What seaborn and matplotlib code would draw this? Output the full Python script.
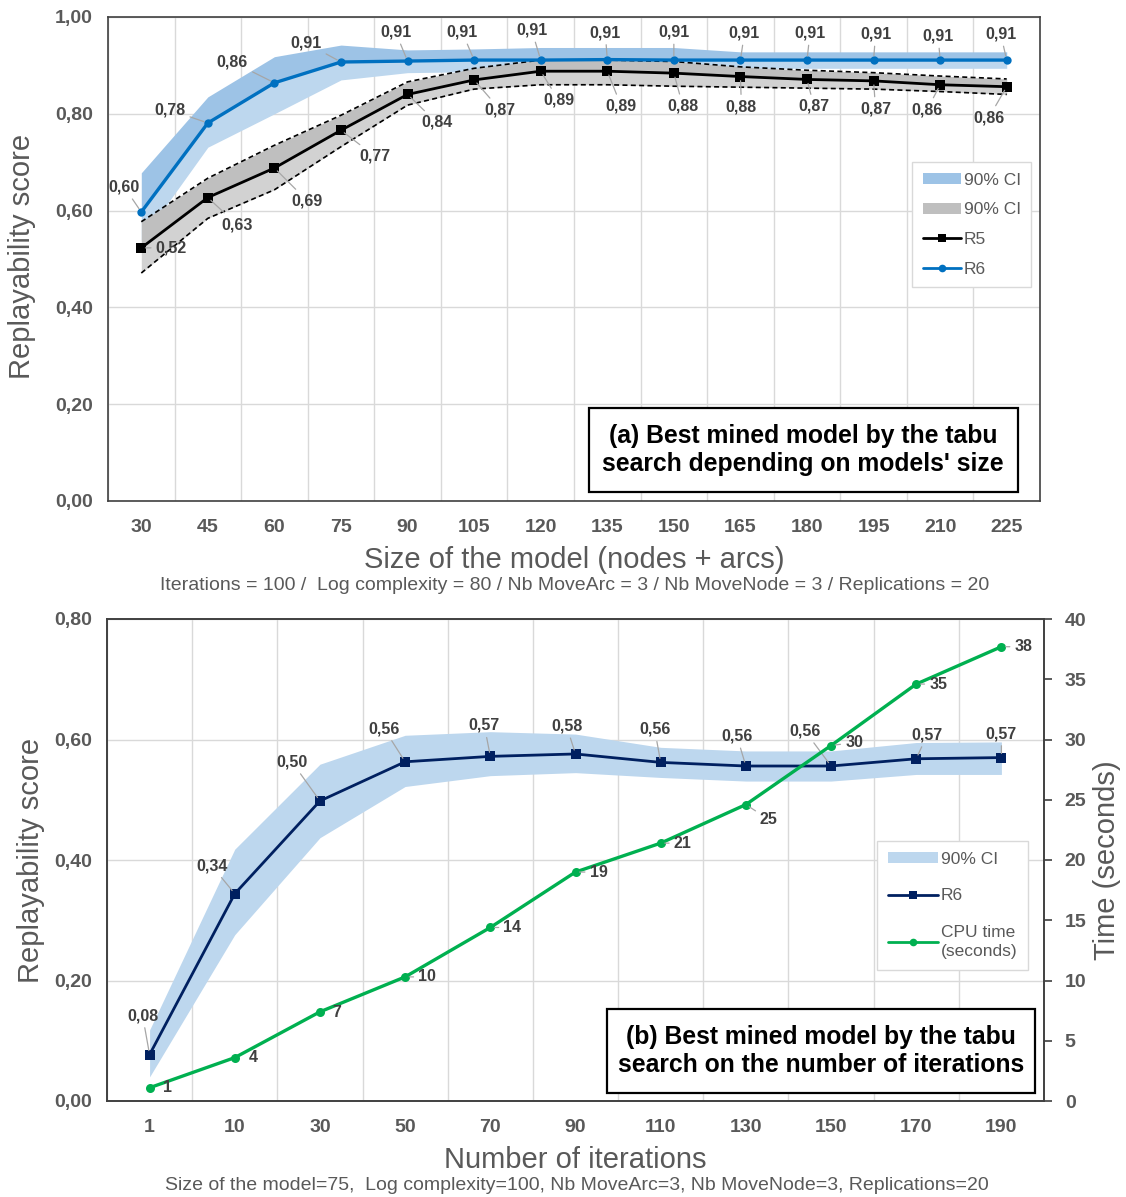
import numpy as np
import pandas as pd
import matplotlib
matplotlib.use("Agg")
import matplotlib.pyplot as plt
import seaborn as sns
from matplotlib.lines import Line2D
from matplotlib.patches import Patch, Rectangle

# ---------------- data : top chart ----------------
sizes = [30, 45, 60, 75, 90, 105, 120, 135, 150, 165, 180, 195, 210, 225]
r6_top = [0.597, 0.781, 0.864, 0.907, 0.909, 0.911, 0.911, 0.912, 0.911, 0.911, 0.911, 0.911, 0.911, 0.911]
r6_top_hi = [0.678, 0.835, 0.918, 0.942, 0.932, 0.934, 0.937, 0.937, 0.937, 0.928, 0.928, 0.928, 0.928, 0.928]
r6_top_lo = [0.539, 0.731, 0.800, 0.870, 0.885, 0.887, 0.890, 0.892, 0.893, 0.894, 0.894, 0.894, 0.894, 0.894]
r5_top = [0.523, 0.627, 0.688, 0.766, 0.840, 0.870, 0.888, 0.888, 0.884, 0.877, 0.871, 0.868, 0.860, 0.856]
r5_top_hi = [0.577, 0.667, 0.735, 0.797, 0.866, 0.894, 0.911, 0.911, 0.908, 0.897, 0.890, 0.885, 0.878, 0.872]
r5_top_lo = [0.471, 0.584, 0.643, 0.732, 0.818, 0.851, 0.860, 0.860, 0.857, 0.855, 0.853, 0.851, 0.846, 0.840]

# ---------------- data : bottom chart ----------------
iterations = [1, 10, 30, 50, 70, 90, 110, 130, 150, 170, 190]
r6_bot = [0.077, 0.344, 0.498, 0.563, 0.572, 0.576, 0.562, 0.556, 0.556, 0.568, 0.570]
r6_bot_hi = [0.118, 0.418, 0.559, 0.607, 0.613, 0.609, 0.587, 0.581, 0.581, 0.595, 0.596]
r6_bot_lo = [0.040, 0.276, 0.437, 0.522, 0.540, 0.545, 0.537, 0.531, 0.531, 0.542, 0.542]
cpu_time = [1.1, 3.6, 7.4, 10.3, 14.4, 19.0, 21.4, 24.6, 29.5, 34.6, 37.7]

top_yticks = [0.0, 0.2, 0.4, 0.6, 0.8, 1.0]
bot_yticks = [0.0, 0.2, 0.4, 0.6, 0.8]
time_ticks = [0, 5, 10, 15, 20, 25, 30, 35, 40]

# label offsets in pixels (dx, dy up)
top_r6_off = [(-17, 25), (-38, 13), (-42, 21), (-35, 19), (-12, 29), (-12, 28), (-9, 30), (-2, 27),
              (0, 28), (4, 27), (3, 27), (2, 26), (-2, 24), (-6, 26)]
top_r5_off = [(30, 0), (29, -27), (33, -33), (34, -26), (29, -28), (26, -30), (18, -29), (14, -35),
              (9, -33), (1, -30), (7, -27), (2, -28), (-13, -25), (-18, -31)]
bot_r6_off = [(-7, 39), (-23, 28), (-28, 39), (-21, 33), (-6, 31), (-9, 28), (-6, 33), (-9, 30),
              (-26, 35), (11, 24), (0, 24)]
cpu_off = [(18, 0), (18, 0), (17, -1), (22, 0), (22, 0), (23, 0), (22, 0), (23, -15), (23, 3),
           (22, 0), (22, 0)]

# ---------------- style ----------------
sns.set_theme(style="white")
plt.rcParams["font.family"] = ["Liberation Sans", "DejaVu Sans"]

TXT = "#595959"
LBL = "#404040"
GRID = "#D9D9D9"
SPINE = "#404040"

fig = plt.figure(figsize=(11.26, 11.97), dpi=100)
W, H = 1126, 1197


def px_axes(l, t, r, b):
    return [l / W, 1 - b / H, (r - l) / W, (b - t) / H]


def comma(v, nd=2):
    return f"{v:.{nd}f}".replace(".", ",")


def annotate(ax, x, y, text, off, color=LBL, leader=True):
    dx, dy = off
    arrow = None
    if leader and (dx * dx + dy * dy) ** 0.5 > 20:
        arrow = dict(arrowstyle="-", color="#A6A6A6", lw=0.9, shrinkA=1, shrinkB=3)
    ax.annotate(text, xy=(x, y), xytext=(dx, dy), textcoords="offset pixels",
                ha="center", va="center", fontsize=11.5, fontweight="bold", color=color,
                arrowprops=arrow, zorder=6)


def style_axis(ax, n, yticks):
    ax.set_xlim(-0.5, n - 0.5)
    ax.set_xticks(range(n))
    ax.set_xticks(np.arange(n + 1) - 0.5, minor=True)
    ax.set_yticks(yticks)
    ax.set_yticklabels([comma(v) for v in yticks])
    ax.grid(False)
    ax.grid(which="minor", axis="x", color=GRID, lw=1.0)
    ax.grid(which="major", axis="y", color=GRID, lw=1.0)
    ax.tick_params(axis="both", which="both", length=0)
    ax.tick_params(axis="y", pad=11, labelsize=14, labelcolor=TXT)
    ax.tick_params(axis="x", pad=13, labelsize=14, labelcolor=TXT)
    for lab in ax.get_xticklabels() + ax.get_yticklabels():
        lab.set_fontweight("bold")
    for s in ax.spines.values():
        s.set_visible(True)
        s.set_color(SPINE)
        s.set_linewidth(1.2)
    ax.set_axisbelow(True)


# ================= top chart =================
ax1 = fig.add_axes(px_axes(108, 17, 1040, 501))
n1 = len(sizes)
x1 = np.arange(n1)
top_df = pd.DataFrame({"pos": x1, "R6": r6_top, "R5": r5_top})

# CI bands
ax1.fill_between(x1, r6_top, r6_top_hi, color="#9DC3E6", lw=0, zorder=1)
ax1.fill_between(x1, r6_top_lo, r6_top, color="#BDD7EE", lw=0, zorder=1)
ax1.fill_between(x1, r5_top, r5_top_hi, color="#BFBFBF", lw=0, zorder=2)
ax1.fill_between(x1, r5_top_lo, r5_top, color="#D2D2D2", lw=0, zorder=2)
ax1.plot(x1, r5_top_hi, color="black", lw=1.2, ls=(0, (3, 2)), zorder=3)
ax1.plot(x1, r5_top_lo, color="black", lw=1.2, ls=(0, (3, 2)), zorder=3)

sns.lineplot(data=top_df, x="pos", y="R5", ax=ax1, color="black", lw=2.0, marker="s",
             markersize=6.5, markeredgewidth=0, zorder=4)
sns.lineplot(data=top_df, x="pos", y="R6", ax=ax1, color="#0070C0", lw=2.4, marker="o",
             markersize=6, markeredgewidth=0, zorder=5)

style_axis(ax1, n1, top_yticks)
ax1.set_ylim(0, 1.0)
ax1.set_xticklabels([str(s) for s in sizes])

for i in range(n1):
    annotate(ax1, i, r6_top[i], comma(r6_top[i]), top_r6_off[i])
    annotate(ax1, i, r5_top[i], comma(r5_top[i]), top_r5_off[i])

ax1.set_xlabel("Size of the model (nodes + arcs)", fontsize=21, color=TXT)
ax1.set_ylabel("Replayability score", fontsize=21, color=TXT)
ax1.xaxis.set_label_coords(0.5, -0.093)
ax1.yaxis.set_label_coords(-0.077, 0.505)

leg1 = ax1.legend(
    handles=[Patch(facecolor="#9DC3E6", edgecolor="none"),
             Patch(facecolor="#BFBFBF", edgecolor="none"),
             Line2D([], [], color="black", marker="s", lw=2, ms=6, mew=0),
             Line2D([], [], color="#0070C0", marker="o", lw=2, ms=5.5, mew=0)],
    labels=["90% CI", "90% CI", "R5", "R6"],
    loc="upper left", bbox_to_anchor=(0.863, 0.70), fontsize=12.5, labelcolor=TXT,
    frameon=True, fancybox=False, edgecolor=GRID, framealpha=1, handlelength=2.2,
    handleheight=0.6, handletextpad=0.15, labelspacing=0.85, borderpad=0.6, borderaxespad=0)
leg1.get_frame().set_linewidth(1.0)

ax1.add_patch(Rectangle((0.516, 0.019), 0.460, 0.174, transform=ax1.transAxes,
                        facecolor="white", edgecolor="black", lw=1.6, zorder=7))
ax1.text(0.746, 0.106, "(a) Best mined model by the tabu\nsearch depending on models' size",
         transform=ax1.transAxes, ha="center", va="center", fontsize=17.8,
         fontweight="bold", color="black", linespacing=1.2, zorder=8)

fig.text(575 / W, 1 - 586 / H,
         "Iterations = 100 /  Log complexity = 80 / Nb MoveArc = 3 / Nb MoveNode = 3 / Replications = 20",
         ha="center", va="center", fontsize=14, color=TXT)

# ================= bottom chart =================
ax2 = fig.add_axes(px_axes(107, 619, 1044, 1101))
n2 = len(iterations)
x2 = np.arange(n2)
bot_df = pd.DataFrame({"pos": x2, "R6": r6_bot, "CPU": cpu_time})

ax2.fill_between(x2, r6_bot_lo, r6_bot_hi, color="#BDD7EE", lw=0, zorder=1)
sns.lineplot(data=bot_df, x="pos", y="R6", ax=ax2, color="#002060", lw=2.0, marker="s",
             markersize=6.5, markeredgewidth=0, zorder=4)
style_axis(ax2, n2, bot_yticks)
ax2.set_ylim(0, 0.8)
ax2.set_xticklabels([str(s) for s in iterations])

ax3 = ax2.twinx()
sns.lineplot(data=bot_df, x="pos", y="CPU", ax=ax3, color="#00B050", lw=2.4, marker="o",
             markersize=6.5, markeredgewidth=0, zorder=4)
ax3.set_ylim(0, 40)
ax3.set_xlim(-0.5, n2 - 0.5)
ax3.set_yticks(time_ticks)
ax3.set_yticklabels([str(t) for t in time_ticks])
ax3.grid(False)
ax3.tick_params(axis="y", length=6, width=1.2, color=SPINE, pad=9, labelsize=14,
                labelcolor=TXT, direction="out", right=True)
for lab in ax3.get_yticklabels():
    lab.set_fontweight("bold")
for s in ax3.spines.values():
    s.set_color(SPINE)
    s.set_linewidth(1.2)
ax3.set_ylabel("Time (seconds)", fontsize=21, color=TXT)
ax3.yaxis.set_label_coords(1.052, 0.5)

for i in range(n2):
    annotate(ax2, i, r6_bot[i], comma(r6_bot[i]), bot_r6_off[i])
    annotate(ax3, i, cpu_time[i], f"{cpu_time[i]:.0f}", cpu_off[i])

ax2.set_xlabel("Number of iterations", fontsize=21, color=TXT)
ax2.set_ylabel("Replayability score", fontsize=21, color=TXT)
ax2.xaxis.set_label_coords(0.5, -0.093)
ax2.yaxis.set_label_coords(-0.066, 0.5)

leg2 = ax3.legend(
    handles=[Patch(facecolor="#BDD7EE", edgecolor="none"),
             Line2D([], [], color="#002060", marker="s", lw=2, ms=6, mew=0),
             Line2D([], [], color="#00B050", marker="o", lw=2, ms=5.5, mew=0)],
    labels=["90% CI", "R6", "CPU time\n(seconds)"],
    loc="upper left", bbox_to_anchor=(0.822, 0.539), fontsize=12.5, labelcolor=TXT,
    frameon=True, fancybox=False, edgecolor=GRID, framealpha=1, handlelength=2.9,
    handleheight=0.6, handletextpad=0.15, labelspacing=1.25, borderpad=0.6,
    borderaxespad=0)
leg2.get_frame().set_linewidth(1.0)
for t in leg2.get_texts():
    t.set_linespacing(1.35)

ax3.add_patch(Rectangle((0.534, 0.017), 0.456, 0.174, transform=ax3.transAxes,
                        facecolor="white", edgecolor="black", lw=1.6, zorder=7))
ax3.text(0.762, 0.104, "(b) Best mined model by the tabu\nsearch on the number of iterations",
         transform=ax3.transAxes, ha="center", va="center", fontsize=17.8,
         fontweight="bold", color="black", linespacing=1.2, zorder=8)

fig.text(577 / W, 1 - 1186 / H,
         "Size of the model=75,  Log complexity=100, Nb MoveArc=3, Nb MoveNode=3, Replications=20",
         ha="center", va="center", fontsize=14, color=TXT)

fig.savefig("out.png", dpi=100, facecolor="white")
